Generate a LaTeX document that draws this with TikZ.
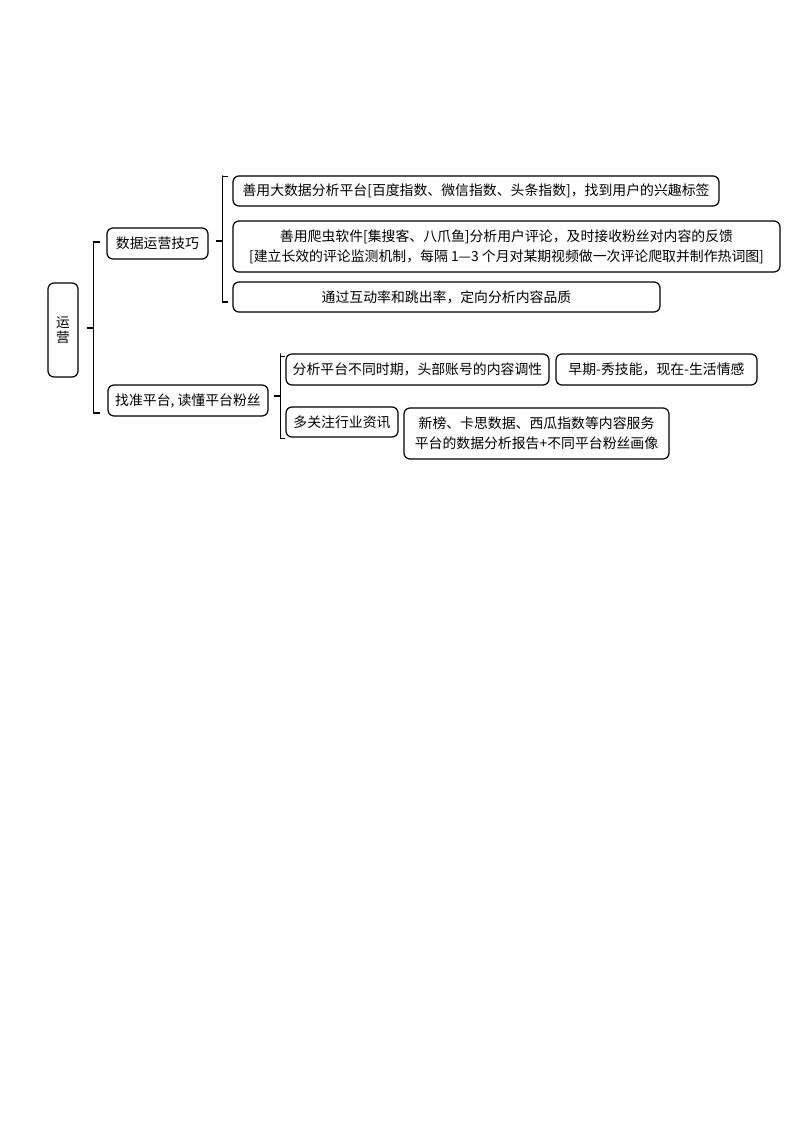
\documentclass[tikz,border=0pt]{standalone}
\usepackage{fontspec}
\setmainfont{Noto Sans CJK SC}
\usetikzlibrary{calc}
\begin{document}
\begin{tikzpicture}[x=0.75pt,y=-0.75pt,
  box/.style={draw, rounded corners=4.5pt, line width=0.9pt, fill=white,
    inner sep=0pt, align=center, font=\fontsize{10.4pt}{15pt}\selectfont},
  sz/.style 2 args={minimum width=#1*0.75pt, minimum height=#2*0.75pt},
  conn/.style={line width=0.8pt}]
\useasboundingbox (0,0) rectangle (794,1123);
% nodes
\node[box, sz={30}{94}, font=\fontsize{10.2pt}{11pt}\selectfont] (root) at (63,330) {运\\营};
\node[box, sz={101}{31}] (n1) at (157.5,243.5) {数据运营技巧};
\node[box, sz={160}{31}] (n2) at (188,400.5) {找准平台, 读懂平台粉丝};
\node[box, sz={486}{30}] (a1) at (476,191) {善用大数据分析平台[百度指数、微信指数、头条指数]，找到用户的兴趣标签};
\node[box, sz={547}{51}] (a2) at (506.5,246.5) {善用爬虫软件[集搜客、八爪鱼]分析用户评论，及时接收粉丝对内容的反馈\\{[}建立长效的评论监测机制，每隔 1—3 个月对某期视频做一次评论爬取并制作热词图]};
\node[box, sz={427}{30}] (a3) at (446.5,297) {通过互动率和跳出率，定向分析内容品质};
\node[box, sz={263}{31}] (b1) at (417.5,369.5) {分析平台不同时期，头部账号的内容调性};
\node[box, sz={201}{31}] (b1a) at (656.5,369.5) {早期-秀技能，现在-生活情感};
\node[box, sz={112}{30}] (b2) at (342,422) {多关注行业资讯};
\node[box, sz={265}{51}] (b2a) at (536.5,433.5) {新榜、卡思数据、西瓜指数等内容服务\\平台的数据分析报告+不同平台粉丝画像};
% connectors: root
\coordinate (r0) at ($(root.east)+(8,-2)$);
\coordinate (r1) at ($(r0)+(7,0)$);
\draw[conn] (r0) -- (r1);
\draw[conn] ($(n1.west)+(-6,-1.5)$) -| (r1 |- n1.west) |- ($(n2.west)+(-7,12.5)$);
% connectors: n1
\coordinate (s0) at ($(n1.east)+(7,-2.5)$);
\coordinate (s1) at ($(s0)+(7,0)$);
\draw[conn] (s0) -- (s1);
\draw[conn] ($(a1.north west)+(-4,1)$) -| (s1 |- a1.north) |- ($(a3.west)+(-4,5)$);
% connectors: n2
\coordinate (t0) at ($(n2.east)+(5,-4.5)$);
\coordinate (t1) at ($(t0)+(7,0)$);
\draw[conn] (t0) -- (t1);
\draw[conn] ($(b1.north west)+(0,3)$) -| (t1 |- b1.north) |- ($(b2.south west)+(0,1)$);
\end{tikzpicture}
\end{document}
